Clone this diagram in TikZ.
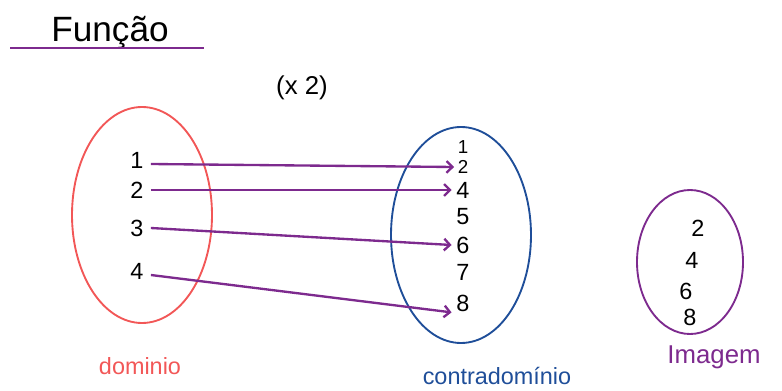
\documentclass[tikz,border=0pt]{standalone}
\usepackage{fontspec}
\setmainfont{Liberation Sans}
\definecolor{verm}{HTML}{F25757}
\definecolor{azul}{HTML}{1F4E99}
\definecolor{roxo}{HTML}{7D2A8E}
\tikzset{num/.style={font=\fontsize{20}{24}\selectfont,inner sep=1pt},
  numc/.style={font=\fontsize{16}{19}\selectfont,inner sep=0pt},
  seta/.style={roxo,line width=2pt,-{Straight Barb[length=5pt,width=10pt]}}}
\usetikzlibrary{arrows.meta}
\begin{document}
\begin{tikzpicture}[x=0.03cm,y=-0.03cm]
	\useasboundingbox (0,0) rectangle (782,390);
	% titulo
	\node[font=\fontsize{30}{34}\selectfont] (titulo) at (110,33) {Função};
	\draw[roxo,line width=2pt] (10,48) -- (204,48);
	\node[font=\fontsize{22}{26}\selectfont] (regra) at (302,88) {(x 2)};

	% conjuntos
	\draw[verm,line width=1.6pt] (142,215) ellipse (70 and 108);
	\draw[azul,line width=1.6pt] (461,235) ellipse (70 and 108);
	\draw[roxo,line width=1.6pt] (690,262) ellipse (53 and 72);

	\foreach \n/\y in {1/160,2/190,3/228,4/271}
		\node[num] (d\n) at (137,\y) {\n};
	\node[numc] (c1) at (463,147) {1};
	\node[numc] (c2) at (463,167) {2};
	\foreach \n/\y in {4/190,5/217,6/245,7/272,8/303}
		\node[num] (c\n) at (463,\y) {\n};
	\foreach \n/\x/\y in {2/698/228,4/692/260,6/686/291,8/690/317}
		\node[num] (i\n) at (\x,\y) {\n};

	\draw[seta] (d1.east) ++(6,4) coordinate (a1) -- ([xshift=-3]c2.west);
	\draw[seta] (d2.east) ++(6,0) coordinate (a2) -- ([xshift=-3]c4.west);
	\draw[seta] (d3.east) ++(6,0) coordinate (a3) -- ([xshift=-3]c6.west);
	\draw[seta] (d4.east) ++(6,4) coordinate (a4) -- ([xshift=-3,yshift=-8]c8.west);

	% nomes
	\node[verm,font=\fontsize{20}{24}\selectfont] (dom) at (140,366) {dominio};
	\node[azul,font=\fontsize{20}{24}\selectfont] (cdom) at (497,376) {contradomínio};
	\node[roxo,font=\fontsize{22}{26}\selectfont] (img) at (714,357) {Imagem};
\end{tikzpicture}
\end{document}
